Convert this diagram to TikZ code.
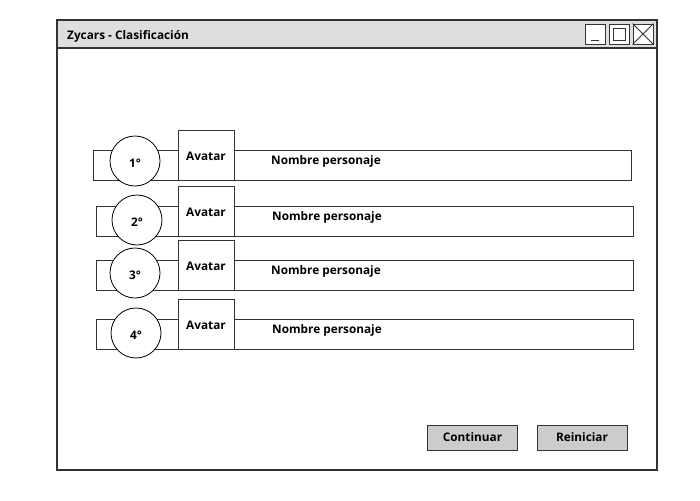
\documentclass[tikz,border=0pt]{standalone}
\usepackage{fontspec}
\setmainfont{Open Sans}
\usepackage{tikz}
\usetikzlibrary{positioning,calc}

\definecolor{barGray}{HTML}{DEDEDE}
\definecolor{btnGray}{HTML}{CCCCCC}
\definecolor{lineGray}{HTML}{333333}

\tikzset{
    txt/.style={font=\bfseries\fontsize{11.8}{14}\selectfont, inner sep=0pt},
    rowbar/.style={draw=lineGray, thick, fill=white, inner sep=0pt},
    rank/.style={draw=black, thick, circle, fill=white, minimum size=50pt, inner sep=0pt, text height=12pt, text depth=0pt, font=\bfseries\fontsize{11.8}{14}\selectfont},
    avatarbox/.style={draw=lineGray, thick, fill=white, minimum width=56pt, minimum height=50pt, inner sep=0pt, text height=10.5pt, text depth=0pt, font=\bfseries\fontsize{11.8}{14}\selectfont},
    winbtn/.style={draw=lineGray, thick, fill=white, minimum size=20pt, inner sep=0pt},
    button/.style={draw=lineGray, thick, fill=btnGray, minimum width=90pt, minimum height=25pt, inner sep=0pt, font=\bfseries\fontsize{11.8}{14}\selectfont}
}

\begin{document}
\begin{tikzpicture}[x=1pt, y=-1pt]
    \useasboundingbox (0,0) rectangle (700,500);

    % Window
    \node [draw=lineGray, very thick, fill=white, minimum width=600pt, minimum height=450pt, inner sep=0pt] (win) at (357,245) {};
    \node [draw=lineGray, very thick, fill=barGray, minimum width=600pt, minimum height=28pt, inner sep=0pt] (title) at (357,34) {};
    \node [txt, anchor=west] (titletxt) at (67,36.5) {Zycars - Clasificación};

    % Window buttons
    \node [winbtn] (minbtn) at (595,34) {};
    \node [winbtn] (maxbtn) at (619,34) {};
    \node [winbtn] (closebtn) at (643,34) {};
    \draw [lineGray, thick] ($(minbtn.south west)+(6,-4)$) -- ($(minbtn.south east)+(-6,-4)$);
    \draw [lineGray, thick] ($(maxbtn.center)+(-6,-6)$) rectangle ($(maxbtn.center)+(6,6)$);
    \draw [lineGray, thick] (closebtn.north west) -- (closebtn.south east);
    \draw [lineGray, thick] (closebtn.north east) -- (closebtn.south west);

    % Row 1
    \node [rowbar, minimum width=538pt, minimum height=30pt] (bar1) at (362,165) {};
    \node [rank] (pos1) at (135,161) {1°};
    \node [avatarbox] (ava1) at (206,155) {Avatar};
    \node [txt] (name1) at (326,161) {Nombre personaje};

    % Row 2
    \node [rowbar, minimum width=537pt, minimum height=30pt] (bar2) at (364.5,221) {};
    \node [rank] (pos2) at (137,220) {2°};
    \node [avatarbox] (ava2) at (206,211) {Avatar};
    \node [txt] (name2) at (327,217) {Nombre personaje};

    % Row 3
    \node [rowbar, minimum width=537pt, minimum height=30pt] (bar3) at (364.5,275) {};
    \node [rank] (pos3) at (135,273) {3°};
    \node [avatarbox] (ava3) at (206,265) {Avatar};
    \node [txt] (name3) at (326,271) {Nombre personaje};

    % Row 4
    \node [rowbar, minimum width=537pt, minimum height=30pt] (bar4) at (364.5,334) {};
    \node [rank] (pos4) at (136,333) {4°};
    \node [avatarbox] (ava4) at (206,324) {Avatar};
    \node [txt] (name4) at (327,330) {Nombre personaje};

    % Buttons
    \node [button] (continuar) at (472.5,437.5) {Continuar};
    \node [button] (reiniciar) at (582,437.5) {Reiniciar};
\end{tikzpicture}
\end{document}
